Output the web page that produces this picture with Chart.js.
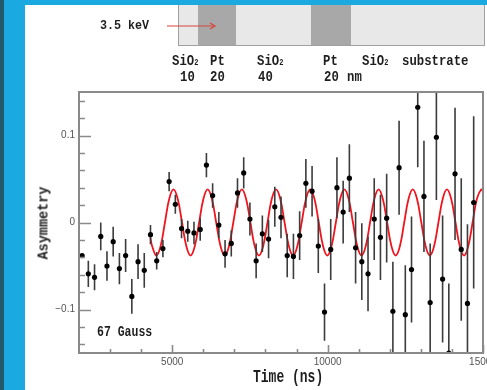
<!DOCTYPE html>
<html>
<head>
<meta charset="utf-8">
<script src="https://cdn.jsdelivr.net/npm/chart.js@4"></script>
<style>
  html, body { margin: 0; padding: 0; }
  body { width: 487px; height: 390px; position: relative; overflow: hidden; background: #1aa9e1; }
  #edge { position: absolute; left: 0; top: 0; width: 4px; height: 390px; background: #24596b; }
  #panel { position: absolute; left: 25px; top: 5px; right: 0; bottom: 0; background: #fff; }
  #chart { position: absolute; left: 0; top: 0; }
  .lbl { position: absolute; font-family: 'Liberation Mono', 'DejaVu Sans Mono', monospace; font-weight: bold;
         color: #1e1e1e; line-height: 1; white-space: pre; transform-origin: 0 50%; }
  .sub { font-size: 7px; }
  #sample { position: absolute; left: 178px; top: 5px; width: 305px; height: 40px; background: #e8e8e8;
            border: 1px solid #a0a0a0; border-top: none; }
  .pt { position: absolute; top: 0; bottom: 0; background: #a8a8a8; }
</style>
</head>
<body>
<div id="edge"></div>
<div id="panel"></div>
<canvas id="chart" width="487" height="390"></canvas>

<!-- sample layers sketch -->
<div id="sample">
  <div class="pt" style="left:19px;width:38px"></div>
  <div class="pt" style="left:132px;width:40px"></div>
</div>
<svg width="487" height="90" style="position:absolute;left:0;top:0">
  <line x1="167" y1="26" x2="215" y2="26" stroke="#d8473a" stroke-width="1.2"/>
  <polyline points="210,23 215,26 210,29" fill="none" stroke="#d8473a" stroke-width="1.2"/>
</svg>
<div class="lbl" style="left:100px;top:21px;font-size:11.7px;transform:scaleY(1.05)">3.5 keV</div>
<div class="lbl" style="left:172px;top:55px;font-size:12.3px;transform:scaleY(1.18)">SiO<span class="sub">2</span></div>
<div class="lbl" style="left:210px;top:55px;font-size:12.3px;transform:scaleY(1.18)">Pt</div>
<div class="lbl" style="left:257px;top:55px;font-size:12.3px;transform:scaleY(1.18)">SiO<span class="sub">2</span></div>
<div class="lbl" style="left:323px;top:55px;font-size:12.3px;transform:scaleY(1.18)">Pt</div>
<div class="lbl" style="left:362px;top:55px;font-size:12.3px;transform:scaleY(1.18)">SiO<span class="sub">2</span></div>
<div class="lbl" style="left:402px;top:55px;font-size:12.3px;transform:scaleY(1.18)">substrate</div>
<div class="lbl" style="left:180px;top:71px;font-size:12.3px;transform:scaleY(1.18)">10</div>
<div class="lbl" style="left:210px;top:71px;font-size:12.3px;transform:scaleY(1.18)">20</div>
<div class="lbl" style="left:258px;top:71px;font-size:12.3px;transform:scaleY(1.18)">40</div>
<div class="lbl" style="left:324px;top:71px;font-size:12.3px;transform:scaleY(1.18)">20</div>
<div class="lbl" style="left:347px;top:71px;font-size:12.3px;transform:scaleY(1.18)">nm</div>

<!-- axis titles and field note -->
<div class="lbl" style="left:97px;top:326px;font-size:11.5px;transform:scaleY(1.35)">67 Gauss</div>
<div class="lbl" style="left:253px;top:371px;font-size:13px;transform:scaleY(1.4)">Time (ns)</div>
<div class="lbl" style="left:44px;top:223px;font-size:13.5px;transform-origin:50% 50%;transform:translate(-50%,-50%) rotate(-90deg) scaleY(1.1)">Asymmetry</div>

<script>
// --- DATA ---
const timeNs = [
  2100, 2300, 2500, 2700, 2900, 3100, 3300, 3500, 3700, 3900, 4100, 4300, 4500, 4700, 4900, 5100,
  5300, 5500, 5700, 5900, 6100, 6300, 6500, 6700, 6900, 7100, 7300, 7500, 7700, 7900, 8100, 8300,
  8500, 8700, 8900, 9100, 9300, 9500, 9700, 9900, 10100, 10300, 10500, 10700, 10900, 11100, 11300, 11500,
  11700, 11900, 12100, 12300, 12500, 12700, 12900, 13100, 13300, 13500, 13700, 13900, 14100, 14300, 14500, 14700
];
const asymmetry = [
  -0.038, -0.059, -0.063, -0.016, -0.050, -0.022, -0.053, -0.038, -0.085, -0.045, -0.055, -0.014, -0.044, -0.030, 0.047, 0.021,
  -0.007, -0.010, -0.012, -0.008, 0.066, 0.031, -0.003, -0.036, -0.024, 0.034, 0.057, 0.004, -0.044, -0.013, -0.019, 0.018,
  0.006, -0.038, -0.039, -0.015, 0.045, 0.036, -0.027, -0.103, -0.031, 0.040, 0.012, 0.051, -0.029, -0.045, -0.059, 0.004,
  -0.017, 0.005, -0.102, 0.063, -0.106, -0.054, 0.1325, 0.030, -0.092, 0.098, -0.065, -0.150, 0.056, -0.031, -0.093, 0.023
];
const asymError = [
  0, 0.015, 0.015, 0.016, 0.017, 0.017, 0.018, 0.019, 0.020, 0.020, 0.020, 0.011, 0.010, 0.010, 0.011, 0.011,
  0.011, 0.012, 0.013, 0.013, 0.014, 0.014, 0.015, 0.016, 0.015, 0.017, 0.018, 0.019, 0.020, 0.021, 0.022, 0.023,
  0.024, 0.025, 0.026, 0.028, 0.028, 0.029, 0.031, 0.033, 0.035, 0.035, 0.036, 0.039, 0.041, 0.044, 0.043, 0.047,
  0.049, 0.051, 0.057, 0.054, 0.057, 0.061, 0.069, 0.064, 0.068, 0.072, 0.073, 0.080, 0.076, 0.082, 0.091, 0.099
];

// red fit curve, read at eighth-period steps
const fitTime = [
  4300, 4352.5,
  4490, 4627.5, 4765, 4902.5, 5040, 5177.5, 5315, 5452.5,
  5590, 5727.5, 5865, 6002.5, 6140, 6277.5, 6415, 6552.5,
  6690, 6827.5, 6965, 7102.5, 7240, 7377.5, 7515, 7652.5,
  7790, 7927.5, 8065, 8202.5, 8340, 8477.5, 8615, 8752.5,
  8890, 9027.5, 9165, 9302.5, 9440, 9577.5, 9715, 9852.5,
  9990, 10127.5, 10265, 10402.5, 10540, 10677.5, 10815, 10952.5,
  11090, 11227.5, 11365, 11502.5, 11640, 11777.5, 11915, 12052.5,
  12190, 12327.5, 12465, 12602.5, 12740, 12877.5, 13015, 13152.5,
  13290, 13427.5, 13565, 13702.5, 13840, 13977.5, 14115, 14252.5,
  14390, 14527.5, 14665, 14802.5, 14940,
  15000
];
const fitAsym = [
  -0.018, -0.027,
  -0.038, -0.027, 0, 0.027, 0.038, 0.027, 0, -0.027,
  -0.038, -0.027, 0, 0.027, 0.038, 0.027, 0, -0.027,
  -0.038, -0.027, 0, 0.027, 0.038, 0.027, 0, -0.027,
  -0.038, -0.027, 0, 0.027, 0.038, 0.027, 0, -0.027,
  -0.038, -0.027, 0, 0.027, 0.038, 0.027, 0, -0.027,
  -0.038, -0.027, 0, 0.027, 0.038, 0.027, 0, -0.027,
  -0.038, -0.027, 0, 0.027, 0.038, 0.027, 0, -0.027,
  -0.038, -0.027, 0, 0.027, 0.038, 0.027, 0, -0.027,
  -0.038, -0.027, 0, 0.027, 0.038, 0.027, 0, -0.027,
  -0.038, -0.027, 0, 0.027, 0.038,
  0.036
];

const xTickValues = [3000, 4000, 5000, 6000, 7000, 8000, 9000, 10000, 11000, 12000, 13000, 14000, 15000];
const xMajor = [5000, 10000, 15000];
const xTickLabels = ['5000', '10000', '15000'];
const yTickValues = [-0.14, -0.12, -0.1, -0.08, -0.06, -0.04, -0.02, 0, 0.02, 0.04, 0.06, 0.08, 0.1, 0.12, 0.14];
const yMajor = [-0.1, 0, 0.1];
const yTickLabels = ['\u22120.1', '0', '0.1'];

// --- HELPERS ---
function majorIndex(v, majors) {
  return majors.findIndex(m => Math.abs(m - v) < 1e-9);
}

// frame + inward tick marks
const frameTicks = {
  id: 'frameTicks',
  afterDatasetsDraw(chart) {
    const { ctx, chartArea: a, scales: { x, y } } = chart;
    ctx.save();
    ctx.strokeStyle = '#8a8a8a';
    ctx.lineWidth = 1.6;
    ctx.beginPath();
    xTickValues.forEach(v => {
      const px = Math.round(x.getPixelForValue(v)) + 0.5;
      const len = majorIndex(v, xMajor) >= 0 ? 8 : 4;
      ctx.moveTo(px, a.bottom);
      ctx.lineTo(px, a.bottom - len);
    });
    yTickValues.forEach(v => {
      const py = Math.round(y.getPixelForValue(v)) + 0.5;
      const len = majorIndex(v, yMajor) >= 0 ? 12 : 6;
      ctx.moveTo(a.left, py);
      ctx.lineTo(a.left + len, py);
    });
    ctx.stroke();
    ctx.lineWidth = 2;
    ctx.strokeRect(a.left, a.top, a.right - a.left, a.bottom - a.top);
    ctx.restore();
  }
};

// vertical error bars, drawn just before the points
const errorBars = {
  id: 'errorBars',
  beforeDatasetDraw(chart, args) {
    if (args.index !== 1) return;
    const { ctx, chartArea: a, scales: { x, y } } = chart;
    ctx.save();
    ctx.beginPath();
    ctx.rect(a.left, a.top, a.right - a.left, a.bottom - a.top);
    ctx.clip();
    ctx.strokeStyle = '#3c3c3c';
    ctx.lineWidth = 1.6;
    ctx.beginPath();
    timeNs.forEach((t, i) => {
      if (!asymError[i]) return;
      const px = x.getPixelForValue(t);
      ctx.moveTo(px, y.getPixelForValue(asymmetry[i] + asymError[i]));
      ctx.lineTo(px, y.getPixelForValue(asymmetry[i] - asymError[i]));
    });
    ctx.stroke();
    ctx.restore();
  }
};

// --- CHART ---
const tickFont = { family: "'Liberation Sans', Arial, sans-serif", size: 10 };

new Chart(document.getElementById('chart'), {
  type: 'scatter',
  data: {
    datasets: [
      {
        type: 'line',
        data: fitTime.map((t, i) => ({ x: t, y: fitAsym[i] })),
        borderColor: '#f0141e',
        borderWidth: 1.8,
        pointRadius: 0,
        tension: 0.4,
        fill: false,
        order: 2
      },
      {
        type: 'scatter',
        data: timeNs.map((t, i) => ({ x: t, y: asymmetry[i] })),
        backgroundColor: '#000',
        borderWidth: 0,
        pointRadius: 2.6,
        order: 1
      }
    ]
  },
  options: {
    responsive: false,
    animation: false,
    devicePixelRatio: 1,
    layout: { padding: { top: 92, right: 2, left: 0, bottom: 0 } },
    plugins: { legend: { display: false }, tooltip: { enabled: false } },
    scales: {
      x: {
        type: 'linear', min: 2000, max: 15000,
        grid: { display: false, drawTicks: false },
        border: { display: false },
        afterBuildTicks: s => { s.ticks = xTickValues.map(v => ({ value: v })); },
        afterFit: s => { s.height = 37; s.paddingLeft = 0; s.paddingRight = 0; },
        ticks: {
          autoSkip: false, maxRotation: 0, padding: 3, color: '#555', font: tickFont,
          callback: v => { const k = majorIndex(v, xMajor); return k >= 0 ? xTickLabels[k] : ''; }
        }
      },
      y: {
        min: -0.15, max: 0.15,
        grid: { display: false, drawTicks: false },
        border: { display: false },
        afterBuildTicks: s => { s.ticks = yTickValues.map(v => ({ value: v })); },
        afterFit: s => { s.width = 79; s.paddingTop = 0; s.paddingBottom = 0; },
        ticks: {
          autoSkip: false, padding: 4, color: '#555', font: tickFont,
          callback: v => { const k = majorIndex(v, yMajor); return k >= 0 ? yTickLabels[k] : ''; }
        }
      }
    }
  },
  plugins: [errorBars, frameTicks]
});
</script>
</body>
</html>
